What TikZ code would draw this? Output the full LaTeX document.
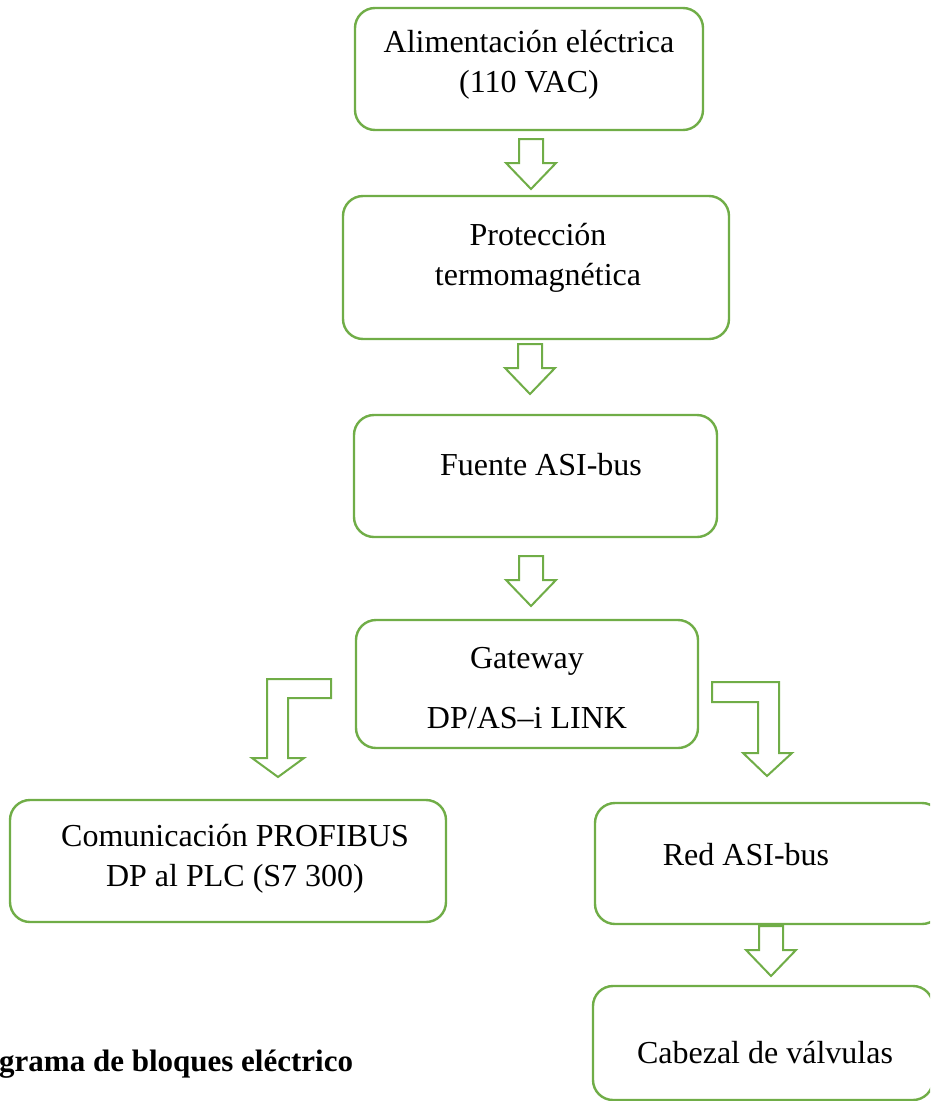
\documentclass[tikz,border=0pt]{standalone}
\usepackage{fontspec}
\setmainfont{Liberation Serif}
\definecolor{leaf}{HTML}{70AD47}
\tikzset{
  box/.style={draw=leaf, line width=2.4pt, rounded corners=20pt, fill=white, inner sep=0pt},
  txt/.style={align=center, inner sep=0pt, font=\fontsize{32}{40}\selectfont},
  blockarrow/.style={draw=leaf, line width=2pt, fill=white, line join=miter},
}
% hollow block arrow pointing down, tip at the bottom
\newcommand{\downblock}[3]{% #1 centre x, #2 top y, #3 name
  \draw[blockarrow] (#1-12,#2) coordinate (#3-top) -- (#1+12,#2) -- (#1+12,#2+24)
    -- (#1+25,#2+24) -- (#1,#2+50) coordinate (#3-tip) -- (#1-25,#2+24) -- (#1-12,#2+24) -- cycle;}
\begin{document}
\begin{tikzpicture}[x=1pt,y=-1pt]
\useasboundingbox (0,0) rectangle (930,1101);
\clip (0,0) rectangle (930,1101);

% blocks
\node[box, minimum width=348pt, minimum height=122pt] (ali) at (529,69) {};
\node[txt] (tali) at (529,65) {Alimentación eléctrica\\(110 VAC)};

\node[box, minimum width=386pt, minimum height=143pt] (pro) at (536,267.5) {};
\node[txt] (tpro) at (538,258) {Protección\\termomagnética};

\node[box, minimum width=363pt, minimum height=122pt] (fue) at (535.5,476) {};
\node[txt] (tfue) at (541,465) {Fuente ASI-bus};

\node[box, minimum width=342pt, minimum height=128pt] (gat) at (527,684) {};
\node[txt, font=\fontsize{32}{60}\selectfont] (tgat) at (527,688) {Gateway\\DP/AS–i LINK};

\node[box, minimum width=436pt, minimum height=122pt] (com) at (228,861) {};
\node[txt] (tcom) at (235,859) {Comunicación PROFIBUS\\DP al PLC (S7 300)};

\node[box, minimum width=347pt, minimum height=121pt] (red) at (768.5,863.5) {};
\node[txt] (tred) at (746,855) {Red ASI-bus};

\node[box, minimum width=340pt, minimum height=114pt] (cab) at (763,1043) {};
\node[txt] (tcab) at (765,1053) {Cabezal de válvulas};

% straight hollow arrows between blocks
\downblock{531}{139}{a1}
\downblock{530}{344}{a2}
\downblock{531}{556}{a3}
\downblock{771}{926}{a4}

% bent hollow arrows out of the gateway
\draw[blockarrow] (331,679) -- (267,679) -- (267,758) -- (252,758) -- (278,777)
  -- (304,758) -- (288,758) -- (288,698) -- (331,698) -- cycle;
\draw[blockarrow] (712,682) -- (779,682) -- (779,753) -- (792,753) -- (767,776)
  -- (743,753) -- (758,753) -- (758,702) -- (712,702) -- cycle;

% caption
\node[anchor=base west, inner sep=0pt, font=\fontsize{31}{36}\selectfont\bfseries] (cap) at (-1,1071) {grama de bloques eléctrico};
\end{tikzpicture}
\end{document}
